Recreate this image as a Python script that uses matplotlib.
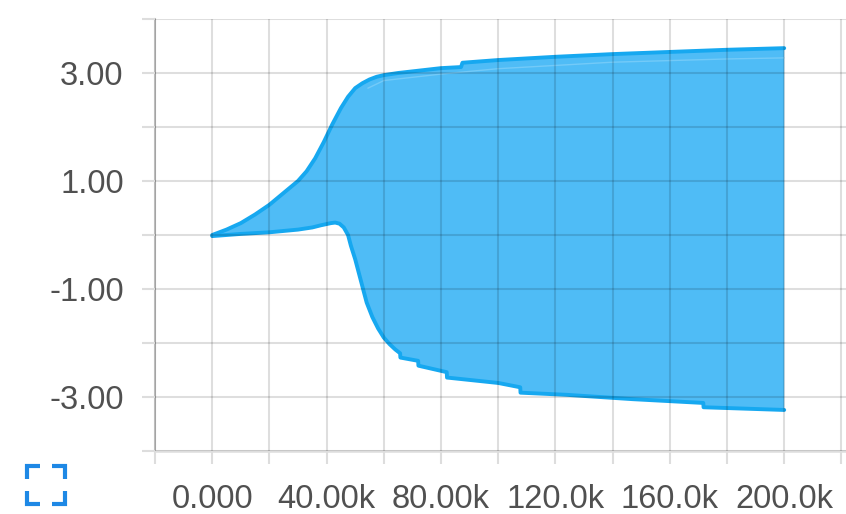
import matplotlib
matplotlib.use("Agg")
import matplotlib.pyplot as plt
from matplotlib.lines import Line2D
from matplotlib.ticker import FixedLocator, FixedFormatter

# Distribution envelope over training steps (repeated x = step change)
steps_upper = [0, 5e3, 10e3, 15e3, 20e3, 25e3, 30e3, 33e3, 36e3, 39e3, 42e3, 45e3,
               47.5e3, 50e3, 52.5e3, 55e3, 57.5e3, 60e3, 65e3, 70e3, 80e3, 87e3,
               87.5e3, 100e3, 120e3, 140e3, 160e3, 180e3, 200e3]
upper = [0.0, 0.1, 0.22, 0.38, 0.56, 0.78, 1.0, 1.18, 1.42, 1.72, 2.05, 2.35,
         2.56, 2.72, 2.81, 2.88, 2.93, 2.96, 3.0, 3.03, 3.09, 3.11,
         3.19, 3.24, 3.3, 3.35, 3.39, 3.43, 3.46]

steps_inner = [54.5e3, 60e3, 80e3, 100e3, 120e3, 140e3, 160e3, 180e3, 200e3]
inner = [2.72, 2.86, 2.98, 3.08, 3.14, 3.2, 3.23, 3.26, 3.28]

steps_lower = [0, 10e3, 20e3, 30e3, 35e3, 38e3, 41.5e3, 43e3, 44.5e3, 46e3, 47.5e3,
               48.5e3, 50e3, 52e3, 54e3, 56e3, 58e3, 60e3, 62e3, 64e3, 65.7e3, 65.8e3,
               72e3, 72.1e3, 82e3, 82.1e3, 100e3, 107.7e3, 107.8e3, 124e3, 147e3,
               171.7e3, 171.8e3, 200e3]
lower = [-0.02, 0.02, 0.05, 0.1, 0.14, 0.18, 0.22, 0.23, 0.21, 0.14, 0.0,
         -0.2, -0.45, -0.85, -1.25, -1.52, -1.73, -1.9, -2.02, -2.12, -2.19, -2.27,
         -2.33, -2.42, -2.54, -2.64, -2.74, -2.82, -2.92, -2.96, -3.04,
         -3.11, -3.19, -3.24]

x_grid = [-20e3 + 20e3 * i for i in range(13)]
x_labels = ["", "0.000", "", "40.00k", "", "80.00k", "", "120.0k", "", "160.0k", "", "200.0k", ""]
y_grid = [-4, -3, -2, -1, 0, 1, 2, 3, 4]
y_labels = ["", "-3.00", "", "-1.00", "", "1.00", "", "3.00", ""]

FILL = "#4fbcf6"
EDGE = "#16a8f0"
TEXT = "#505050"

plt.rcParams["font.family"] = ["Liberation Sans", "DejaVu Sans"]

fig = plt.figure(figsize=(8.46, 5.14), dpi=100)
ax = fig.add_axes([155 / 846, 63 / 514, 691 / 846, 432 / 514])

# Merge both envelopes onto one polygon for the band
poly_x = list(steps_upper) + list(reversed(steps_lower))
poly_y = list(upper) + list(reversed(lower))
ax.fill(poly_x, poly_y, color=FILL, lw=0, zorder=1)
for xs, ys in ((steps_upper, upper), (steps_lower, lower)):
    ax.plot(xs, ys, color=EDGE, lw=2.8, solid_capstyle="round",
            solid_joinstyle="round", zorder=2)
ax.plot(steps_inner, inner, color="#9fdcfb", lw=1.0, alpha=0.45, zorder=2)

ax.set_xlim(-20e3, 221.6e3)
ax.set_ylim(-4, 4)

ax.xaxis.set_major_locator(FixedLocator(x_grid))
ax.xaxis.set_major_formatter(FixedFormatter(x_labels))
ax.yaxis.set_major_locator(FixedLocator(y_grid))
ax.yaxis.set_major_formatter(FixedFormatter(y_labels))

ax.set_axisbelow(False)
ax.grid(True, color="black", alpha=0.13, lw=1.5, zorder=3)
ax.tick_params(axis="both", length=9.5, width=1.5, color="#dddddd",
               labelsize=23.5, labelcolor=TEXT)
ax.tick_params(axis="y", pad=13)
ax.tick_params(axis="x", pad=14)

for side in ("top", "right"):
    ax.spines[side].set_visible(False)
ax.spines["left"].set_color("#bdbdbd")
ax.spines["left"].set_linewidth(1.5)
ax.spines["bottom"].set_color("#dddddd")
ax.spines["bottom"].set_linewidth(1.8)

# Fullscreen toggle glyph in the bottom-left corner
W, H = 846.0, 514.0
x0, x1, y0, y1, arm = 27, 65, 466, 504, 13
corners = [
    [(x0, y0 + arm), (x0, y0), (x0 + arm, y0)],
    [(x1 - arm, y0), (x1, y0), (x1, y0 + arm)],
    [(x0, y1 - arm), (x0, y1), (x0 + arm, y1)],
    [(x1 - arm, y1), (x1, y1), (x1, y1 - arm)],
]
for pts in corners:
    xs = [p[0] / W for p in pts]
    ys = [1 - p[1] / H for p in pts]
    fig.add_artist(Line2D(xs, ys, transform=fig.transFigure, color="#1e88e5",
                          lw=3.0, solid_joinstyle="miter", solid_capstyle="butt"))

fig.savefig("out.png", dpi=100)
